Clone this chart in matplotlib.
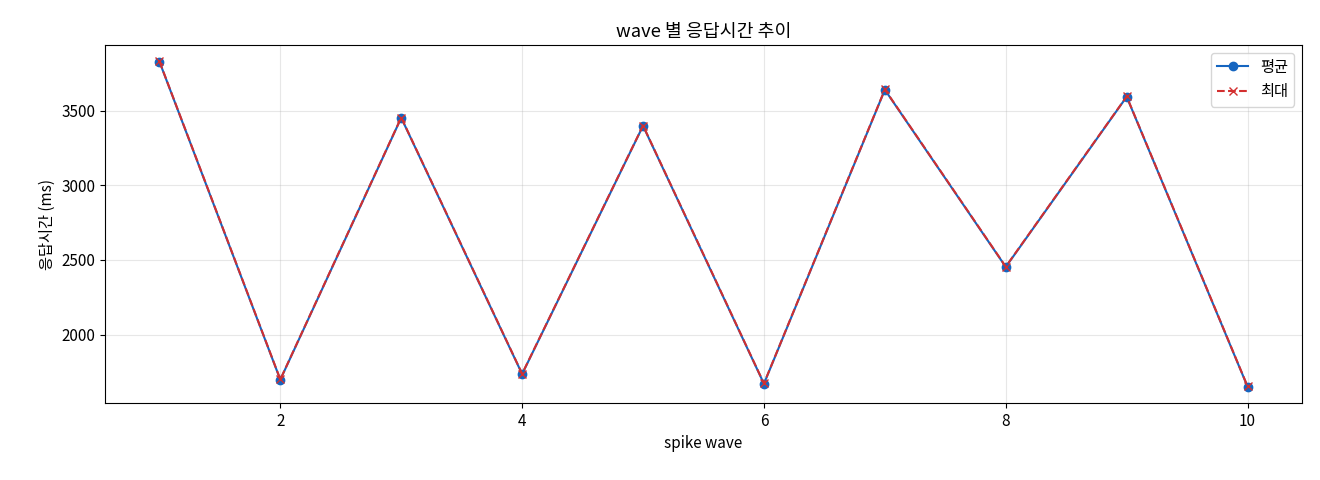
import matplotlib
matplotlib.use("Agg")
import matplotlib.pyplot as plt

plt.rcParams['font.family'] = ['Noto Sans CJK KR', 'DejaVu Sans']
plt.rcParams['font.size'] = 11

waves = [1, 2, 3, 4, 5, 6, 7, 8, 9, 10]
avg = [3830, 1697, 3453, 1735, 3399, 1670, 3641, 2453, 3594, 1650]
mx = [3832, 1699, 3455, 1737, 3401, 1672, 3643, 2455, 3596, 1652]

fig = plt.figure(figsize=(13.2, 4.8), dpi=100)
ax = fig.add_axes([105/1320, 1-403/480, 1197/1320, 358/480])
ax.plot(waves, avg, marker='o', color='#1565c0', label='평균')
ax.plot(waves, mx, marker='x', linestyle='--', color='#d32f2f', label='최대')
ax.set_title('wave 별 응답시간 추이')
ax.set_xlabel('spike wave')
ax.set_ylabel('응답시간 (ms)')
ax.grid(True, alpha=0.3)
ax.legend(loc='upper right')
fig.savefig('out.png', dpi=100)
